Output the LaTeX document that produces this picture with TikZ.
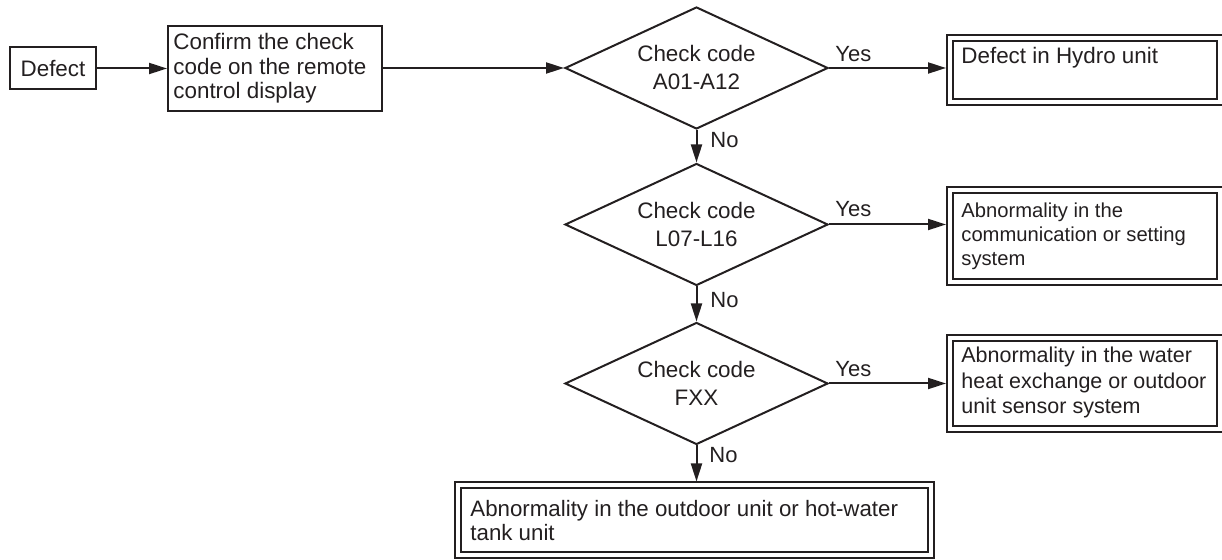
\documentclass[tikz,border=0pt]{standalone}
\usepackage{fontspec}
\setmainfont{Liberation Sans}
\usetikzlibrary{arrows.meta,shapes.geometric,calc}
\definecolor{ink}{RGB}{35,31,32}
\begin{document}
\begin{tikzpicture}[x=0.5pt,y=-0.5pt,
  every node/.style={text=ink},
  box/.style={draw=ink,line width=1pt,rectangle,inner sep=0pt,outer sep=0.5pt},
  dbox/.style={draw=ink,double=white,double distance=2pt,line width=1pt,rectangle,inner sep=0pt,outer sep=2pt},
  dec/.style={draw=ink,line width=1pt,diamond,aspect=2.17,inner sep=0pt,minimum width=131.5pt,minimum height=61pt,align=center,font=\fontsize{11.2}{14}\selectfont},
  txt/.style={anchor=base west,align=left,inner sep=0pt},
  lab/.style={anchor=base west,inner sep=0pt,font=\fontsize{11}{12}\selectfont},
  arr/.style={draw=ink,line width=1pt,-{Triangle[length=9pt,width=5.5pt]}},
  ln/.style={draw=ink,line width=1pt}]
\useasboundingbox (0,0) rectangle (1222,560);

% boxes
\node[box,minimum width=43pt,minimum height=21pt,font=\fontsize{11.2}{12.4}\selectfont] (defect) at (53,68.5) {Defect};
\node[box,minimum width=107pt,minimum height=42.5pt] (confirm) at (275,68.5) {};
% multi-line text nodes: base anchor = baseline of last line
\node[txt,font=\fontsize{11.2}{12.25}\selectfont] (confirmtxt) at (173,99) {Confirm the check\\code on the remote\\control display};

% decisions
\node[dec] (d1) at (696.5,68) {Check code\\A01-A12};
\node[dec] (d2) at (696.5,224.5) {Check code\\L07-L16};
\node[dec] (d3) at (696.5,383.5) {Check code\\FXX};

% result boxes
\node[dbox,minimum width=135pt,minimum height=32.25pt] (r1) at (1085,70.25) {};
\node[txt,font=\fontsize{11.2}{12.4}\selectfont] (r1txt) at (961,64) {Defect in Hydro unit};

\node[dbox,minimum width=135pt,minimum height=45.75pt] (r2) at (1085,236.25) {};
\node[txt,font=\fontsize{10.1}{12.2}\selectfont] (r2txt) at (961,266) {Abnormality in the\\communication or setting\\system};

\node[dbox,minimum width=135pt,minimum height=45.5pt] (r3) at (1085,384) {};
\node[txt,font=\fontsize{10.75}{12.8}\selectfont] (r3txt) at (961,414) {Abnormality in the water\\heat exchange or outdoor\\unit sensor system};

\node[dbox,minimum width=236.25pt,minimum height=34.75pt] (r4) at (694.25,520.25) {};
\node[txt,font=\fontsize{11.15}{12}\selectfont] (r4txt) at (470,541) {Abnormality in the outdoor unit or hot-water\\tank unit};

% connectors
\draw[arr] (defect.east) -- (defect.east -| confirm.west);
\draw[arr] (confirm.east |- d1.west) -- (d1.west);
\draw[arr] (d1.east) -- (d1.east -| r1.west);
\draw[arr] (d2.east) -- (d2.east -| r2.west);
\draw[arr] (d3.east) -- (d3.east -| r3.west);
\draw[arr] (d1.south) -- (d2.north);
\draw[arr] (d2.south) -- (d3.north);
\draw[arr] (d3.south) -- (d3.south |- r4.north);

% labels
\node[lab] (y1) at (835,62) {Yes};
\node[lab] (y2) at (835,217) {Yes};
\node[lab] (y3) at (835,377) {Yes};
\node[lab] (n1) at (710,148) {No};
\node[lab] (n2) at (710,308) {No};
\node[lab] (n3) at (709,463) {No};
\end{tikzpicture}
\end{document}
